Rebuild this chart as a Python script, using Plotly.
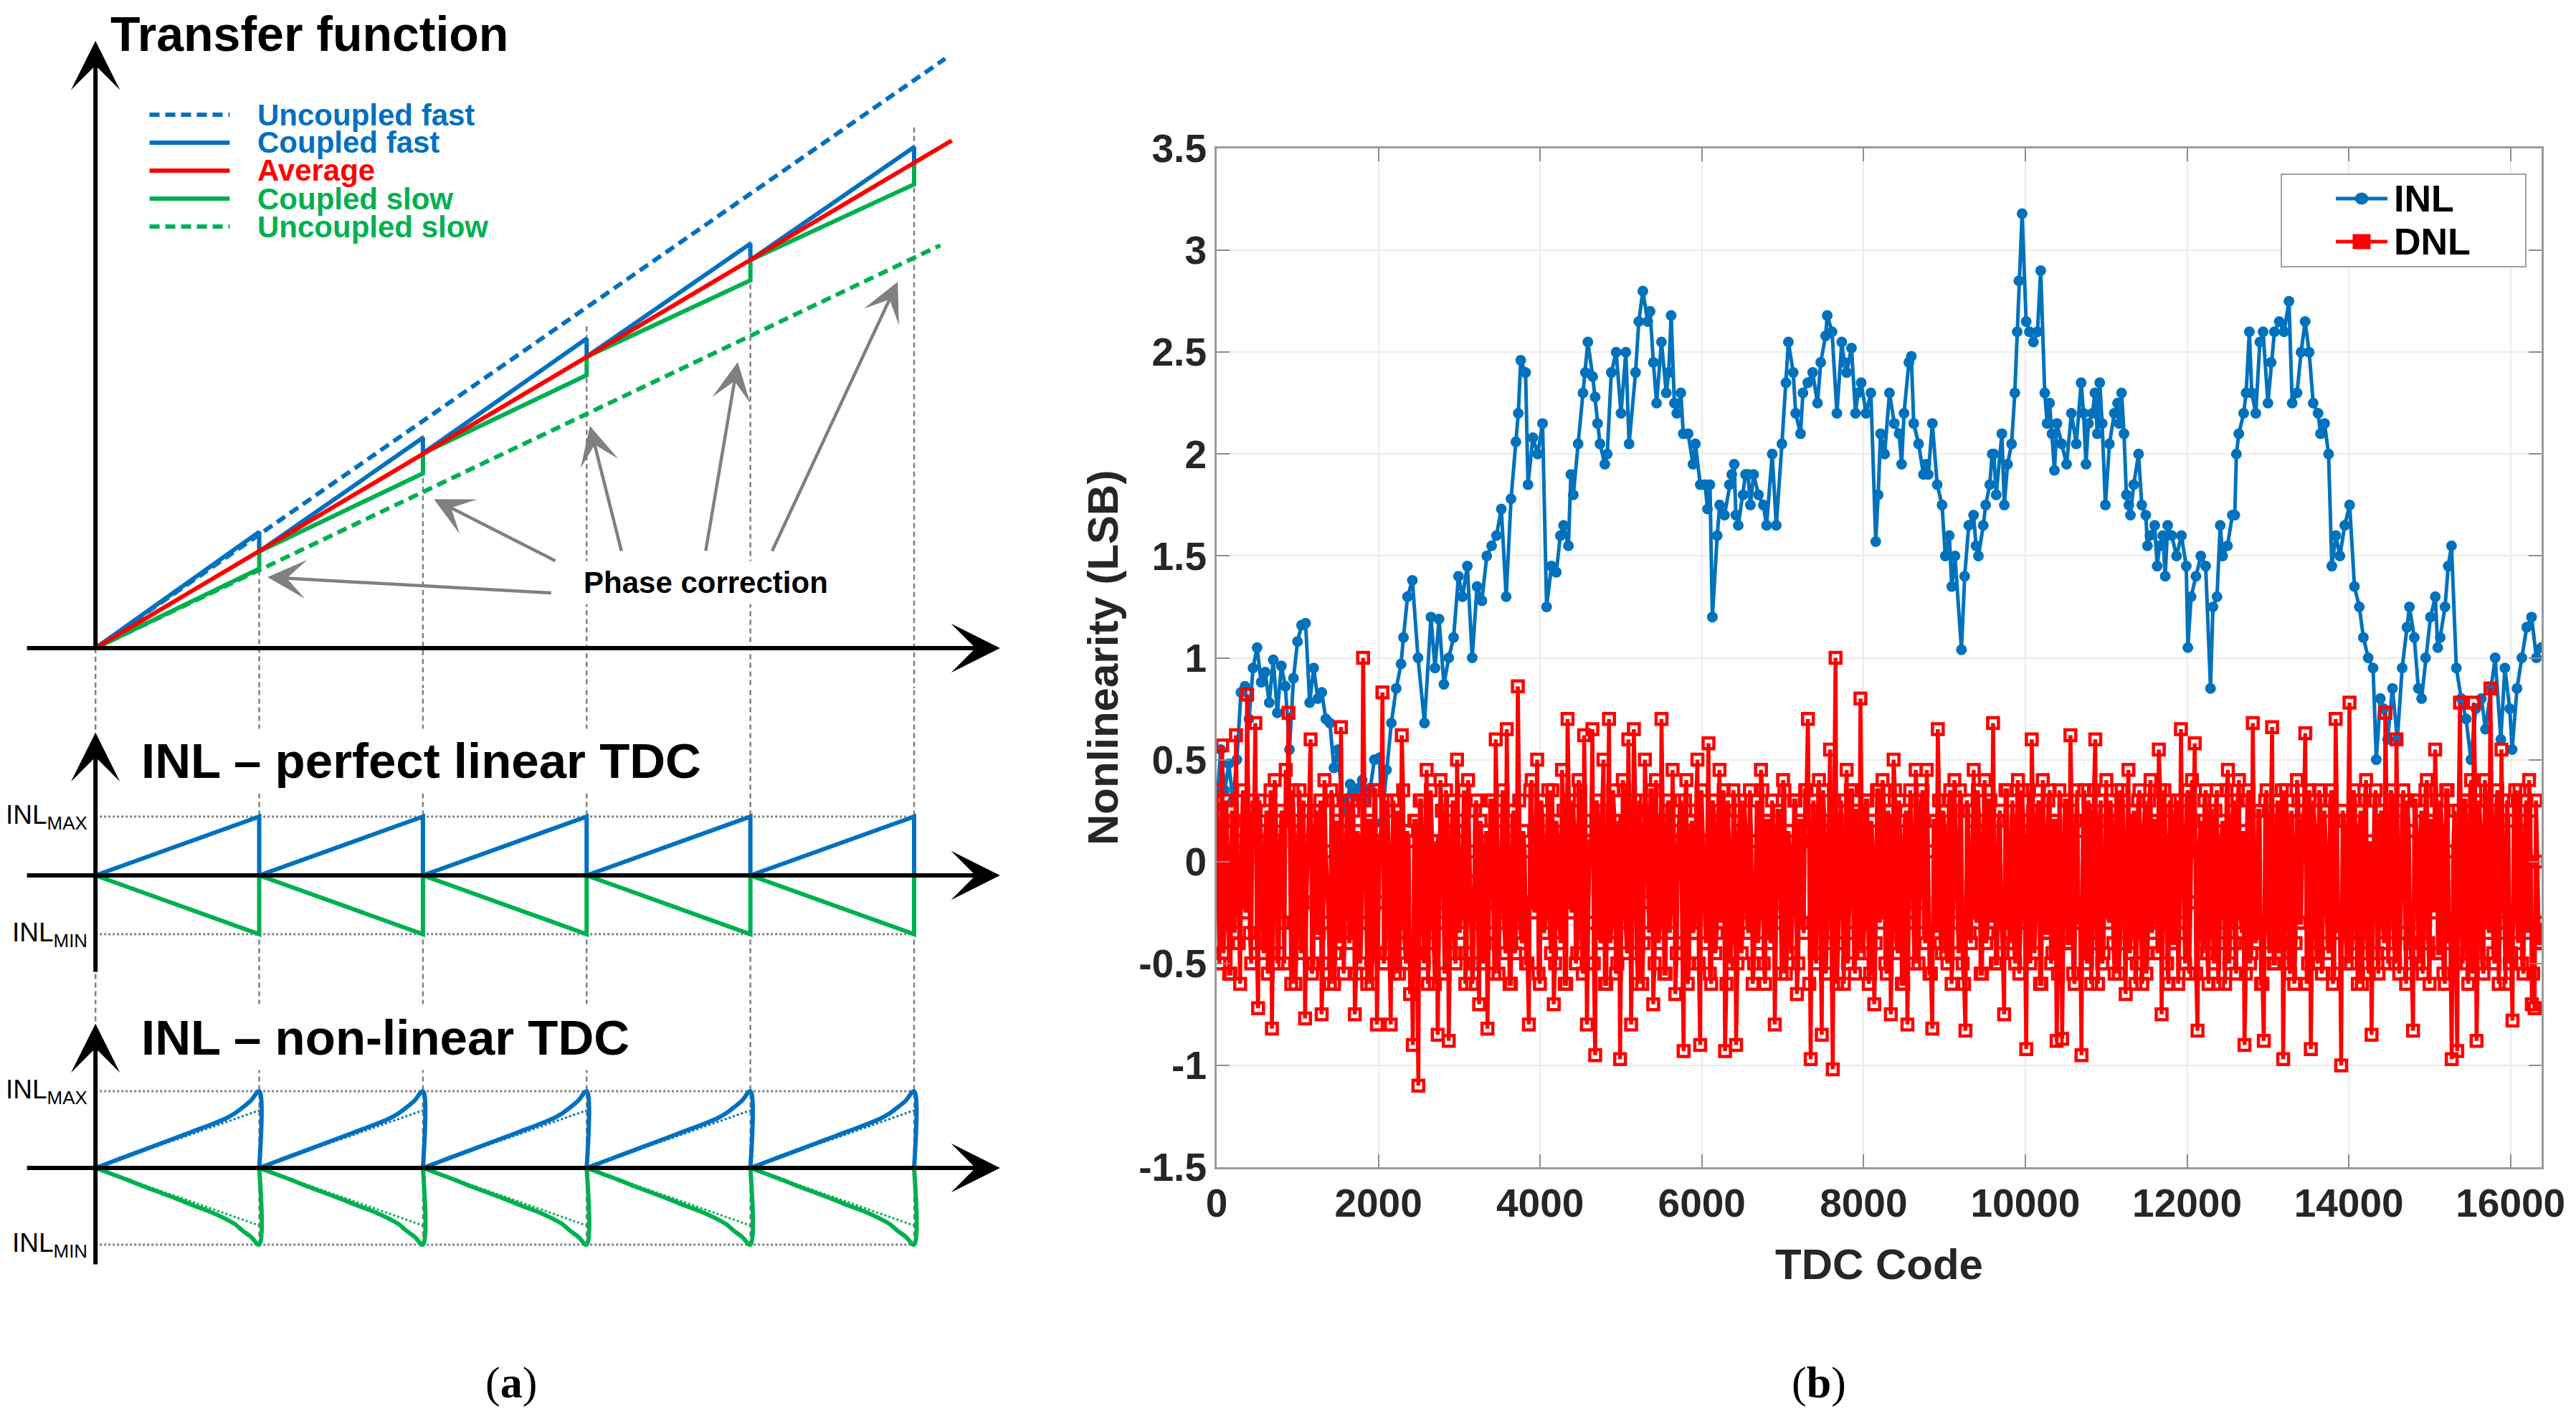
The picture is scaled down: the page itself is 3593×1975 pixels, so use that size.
import numpy as np
import plotly.graph_objects as go

W, H = 3593, 1975
OFF = 8  # page offset of the figure inside the browser window
FONT = "Liberation Sans, Arial, sans-serif"
BLUE = "#0070C0"
GREEN = "#00B050"
RED = "#FF0000"
GRAY = "#808080"
MBLUE = "#0072BD"

# ---------------- (b) INL / DNL data ----------------
inl_code = [0, 50, 100, 150, 200, 250, 300, 350, 400, 450, 500, 550, 600, 650, 700, 750, 800, 850, 900, 950,
            1000, 1050, 1100, 1150, 1200, 1250, 1300, 1350, 1400, 1450, 1500, 1550, 1600, 1650, 1700, 1750, 1800,
            1850, 1900, 1950, 2015, 2040, 2100, 2160, 2220, 2280, 2310, 2360, 2420, 2490, 2570, 2650, 2700, 2750,
            2810, 2870, 2930, 2990, 3040, 3100, 3160, 3220, 3280, 3340, 3400, 3460, 3520, 3580, 3640, 3700, 3730,
            3760, 3820, 3850, 3910, 3970, 4030, 4080, 4140, 4200, 4250, 4290, 4350, 4380, 4410, 4470, 4530, 4560,
            4590, 4650, 4680, 4710, 4740, 4800, 4830, 4880, 4940, 5000, 5060, 5100, 5180, 5220, 5270, 5330, 5360,
            5400, 5440, 5500, 5560, 5590, 5620, 5660, 5690, 5740, 5770, 5830, 5890, 5920, 5980, 6040, 6070, 6100,
            6130, 6190, 6220, 6280, 6340, 6370, 6400, 6420, 6450, 6510, 6540, 6570, 6600, 6640, 6700, 6760, 6800,
            6870, 6920, 6990, 7040, 7070, 7130, 7160, 7220, 7250, 7310, 7370, 7430, 7470, 7530, 7550, 7610, 7670,
            7730, 7760, 7790, 7850, 7900, 7930, 7970, 8030, 8090, 8150, 8180, 8210, 8260, 8320, 8380, 8440, 8470,
            8500, 8560, 8590, 8620, 8680, 8740, 8770, 8800, 8850, 8910, 8970, 9010, 9060, 9090, 9130, 9210, 9250,
            9300, 9360, 9390, 9420, 9480, 9510, 9560, 9590, 9610, 9640, 9710, 9740, 9780, 9830, 9870, 9900, 9920,
            9960, 10010, 10050, 10100, 10150, 10190, 10240, 10270, 10300, 10330, 10360, 10390, 10450, 10510, 10570,
            10630, 10690, 10720, 10750, 10780, 10830, 10860, 10890, 10920, 10950, 10990, 11040, 11100, 11140,
            11160, 11190, 11220, 11250, 11280, 11300, 11340, 11400, 11440, 11490, 11510, 11540, 11600, 11630,
            11660, 11700, 11730, 11760, 11810, 11870, 11930, 11990, 12010, 12050, 12110, 12170, 12230, 12290,
            12320, 12370, 12410, 12440, 12500, 12560, 12590, 12610, 12640, 12700, 12730, 12770, 12800, 12850,
            12900, 12940, 13000, 13040, 13080, 13140, 13200, 13260, 13300, 13360, 13410, 13460, 13510, 13560,
            13620, 13650, 13700, 13750, 13790, 13840, 13890, 13950, 14010, 14070, 14130, 14180, 14240, 14300,
            14340, 14390, 14430, 14480, 14540, 14600, 14660, 14720, 14750, 14810, 14860, 14900, 14950, 15010,
            15070, 15100, 15130, 15190, 15230, 15270, 15330, 15390, 15450, 15510, 15570, 15640, 15690, 15760,
            15810, 15880, 15930, 15990, 16020, 16080, 16140, 16200, 16260, 16320, 16380]
inl_val = [0.27, 0.55, 0.35, 0.48, 0.30, 0.50, 0.83, 0.86, 0.70, 0.95, 1.05, 0.88, 0.93, 0.78, 0.99, 0.73, 0.96,
           0.86, 0.55, 0.90, 1.08, 1.16, 1.17, 0.78, 0.95, 0.80, 0.83, 0.70, 0.68, 0.46, 0.55, 0.30, 0.25, 0.38,
           0.32, 0.36, 0.40, 0.30, 0.36, 0.50, 0.51, 0.19, 0.45, 0.68, 0.85, 0.97, 1.10, 1.30, 1.38, 1.00, 0.68,
           1.20, 0.95, 1.19, 0.87, 1.00, 1.10, 1.40, 1.30, 1.45, 1.00, 1.35, 1.28, 1.50, 1.55, 1.60, 1.73, 1.30,
           1.78, 2.06, 2.20, 2.46, 2.40, 1.85, 2.08, 2.00, 2.15, 1.25, 1.45, 1.42, 1.60, 1.65, 1.55, 1.90, 1.80,
           2.05, 2.30, 2.40, 2.55, 2.38, 2.28, 2.15, 2.05, 1.95, 2.00, 2.40, 2.50, 2.20, 2.50, 2.05, 2.40, 2.65,
           2.80, 2.65, 2.70, 2.45, 2.25, 2.55, 2.30, 2.40, 2.68, 2.25, 2.20, 2.30, 2.10, 2.10, 1.95, 2.05, 1.85,
           1.85, 1.73, 1.85, 1.20, 1.60, 1.75, 1.70, 1.85, 1.90, 1.95, 1.70, 1.65, 1.80, 1.90, 1.90, 1.75, 1.90,
           1.80, 1.75, 1.65, 2.00, 1.65, 2.05, 2.35, 2.55, 2.40, 2.20, 2.10, 2.30, 2.35, 2.40, 2.25, 2.45, 2.58,
           2.68, 2.60, 2.20, 2.55, 2.45, 2.40, 2.52, 2.20, 2.30, 2.35, 2.20, 2.30, 1.57, 1.80, 2.10, 2.00, 2.30,
           2.15, 2.10, 1.95, 2.20, 2.45, 2.48, 2.15, 2.05, 1.90, 1.95, 1.90, 2.15, 1.85, 1.75, 1.50, 1.60, 1.35,
           1.50, 1.04, 1.40, 1.65, 1.70, 1.55, 1.50, 1.65, 1.75, 1.85, 2.00, 2.00, 1.80, 2.10, 1.75, 1.95, 2.05,
           2.30, 2.60, 2.85, 3.18, 2.65, 2.60, 2.55, 2.60, 2.90, 2.30, 2.15, 2.25, 2.10, 1.92, 2.15, 2.05, 1.95,
           2.20, 2.05, 2.35, 2.20, 1.95, 2.15, 2.20, 2.30, 2.10, 2.35, 2.15, 1.75, 2.05, 2.20, 2.25, 2.15, 2.30,
           2.10, 1.80, 1.75, 1.70, 1.85, 2.00, 1.75, 1.70, 1.55, 1.60, 1.65, 1.45, 1.55, 1.60, 1.40, 1.65, 1.60,
           1.50, 1.60, 1.45, 1.05, 1.30, 1.40, 1.50, 1.45, 0.85, 1.25, 1.30, 1.65, 1.50, 1.55, 1.70, 1.70, 2.00,
           2.10, 2.20, 2.30, 2.60, 2.30, 2.20, 2.55, 2.60, 2.25, 2.45, 2.60, 2.65, 2.60, 2.75, 2.25, 2.30, 2.50,
           2.65, 2.50, 2.25, 2.20, 2.10, 2.15, 2.00, 1.45, 1.60, 1.50, 1.65, 1.75, 1.35, 1.25, 1.10, 1.00, 0.95,
           0.50, 0.80, 0.75, 0.60, 0.85, 0.60, 0.95, 1.15, 1.25, 1.10, 0.85, 0.80, 1.00, 1.20, 1.30, 1.05, 1.10,
           1.25, 1.45, 1.55, 0.95, 0.80, 0.70, 0.50, 0.75, 0.80, 0.65, 0.85, 1.00, 0.60, 0.95, 0.75, 0.55, 0.85,
           1.00, 1.15, 1.20, 1.00, 1.05]

# DNL read in two passes: the spiky outer envelope and the dense core in between
dnl_outer = [
    0.35, -0.5, 0.57, -0.3, 0.05, -0.55, 0.2, 0.62, -0.4, 0.1, -0.2, 0.82, -0.35, 0.3, 0.68, -0.72, 0.15, -0.45, 0.25, -0.1, -0.82, 0.4, -0.5, 0.1,
    -0.3, 0.45, 0.73, -0.6, 0.2, -0.4, 0.35, -0.2, -0.77, 0.1, 0.6, -0.5, 0.25, -0.35, -0.75, 0.4, -0.1, -0.6, 0.3, -0.45, 0.05, 0.66, -0.55, 0.2,
    -0.4, 0.3, -0.75, 0.15, -0.5, 1.0, -0.3, 0.2, -0.6, 0.35, -0.8, 0.1, 0.83, -0.45, 0.25, -0.8, 0.3, -0.2, -0.55, 0.62, -0.4, 0.15, -0.65, -0.9,
    0.2, -1.1, 0.3, -0.5, 0.45, -0.3, 0.1, -0.6, -0.85, 0.4, -0.2, 0.35, -0.88, 0.15, -0.45, 0.5, -0.35, 0.2, -0.6, 0.4, -0.1, -0.5, 0.3, -0.7,
    0.1, -0.4, -0.82, 0.3, -0.2, 0.6, -0.55, 0.25, -0.3, 0.65, -0.6, 0.2, -0.45, 0.86, -0.35, 0.15, -0.5, -0.8, 0.4, -0.25, 0.5, -0.6, 0.2, -0.3,
    0.35, -0.45, -0.7, 0.2, -0.3, 0.45, -0.6, 0.7, -0.2, 0.3, -0.5, 0.4, -0.35, 0.62, -0.8, 0.1, 0.65, -0.95, 0.25, -0.4, 0.5, -0.6, 0.7, -0.3,
    0.2, -0.5, -0.97, 0.4, -0.3, 0.6, -0.8, 0.65, -0.45, 0.3, -0.6, 0.5, -0.2, 0.35, -0.7, 0.4, -0.4, 0.7, -0.55, 0.25, -0.35, 0.45, -0.65, 0.1,
    0.3, -0.93, 0.4, -0.5, 0.2, -0.3, 0.5, -0.9, 0.1, -0.4, 0.58, -0.6, 0.25, -0.35, 0.45, -0.2, -0.93, 0.3, -0.5, 0.35, -0.9, 0.15, -0.45, 0.3,
    -0.3, 0.35, -0.6, 0.1, -0.4, 0.45, -0.5, 0.2, -0.35, 0.3, -0.8, 0.25, -0.2, 0.4, -0.55, 0.15, -0.45, 0.3, -0.65, 0.2, -0.3, 0.35, 0.7, -0.97,
    0.3, -0.5, 0.4, -0.85, 0.2, -0.3, 0.55, -1.02, 1.0, -0.4, 0.3, -0.6, 0.45, -0.2, 0.35, -0.55, 0.25, 0.8, -0.45, 0.3, -0.6, 0.2, -0.7, 0.35,
    -0.3, 0.4, -0.5, 0.25, -0.75, 0.5, -0.4, 0.3, -0.6, 0.2, -0.8, 0.35, -0.25, 0.45, -0.5, 0.3, -0.35, 0.45, -0.55, -0.82, 0.2, 0.65, -0.4, 0.25,
    -0.45, 0.3, -0.6, 0.4, -0.2, 0.35, -0.5, -0.83, 0.25, -0.4, 0.45, -0.3, 0.2, -0.55, 0.4, -0.35, 0.3, 0.68, -0.5, 0.2, -0.3, -0.75, 0.35, -0.4,
    0.3, -0.5, 0.4, -0.3, 0.2, -0.92, 0.35, 0.6, -0.45, 0.25, -0.6, 0.4, -0.35, 0.3, -0.5, 0.2, -0.88, 0.35, -0.87, 0.3, -0.4, 0.62, -0.55, 0.2,
    -0.3, -0.95, 0.35, -0.5, 0.25, -0.4, 0.6, -0.6, 0.3, -0.45, 0.4, -0.3, 0.2, -0.55, 0.35, -0.4, 0.3, -0.65, 0.45, -0.35, 0.25, -0.5, 0.35, -0.6,
    0.3, -0.45, 0.4, -0.3, 0.2, 0.55, -0.75, 0.35, -0.5, 0.3, -0.4, 0.25, -0.6, 0.65, -0.35, 0.3, -0.55, 0.4, 0.58, -0.83, 0.2, -0.45, 0.35, -0.6,
    0.25, -0.5, 0.35, -0.4, 0.2, -0.6, 0.45, -0.3, 0.3, -0.55, 0.4, -0.35, -0.9, 0.3, -0.5, 0.68, -0.4, 0.25, -0.6, -0.88, 0.35, -0.45, 0.66, -0.5,
    0.3, -0.4, -0.97, 0.35, -0.5, 0.25, -0.6, 0.4, -0.3, 0.2, 0.63, -0.5, -0.92, 0.3, -0.45, 0.35, -0.55, 0.25, -0.4, 0.3, -0.6, 0.7, -0.35, -1.0,
    0.2, -0.5, 0.78, -0.4, 0.3, -0.6, 0.25, -0.35, 0.4, -0.55, -0.85, 0.3, -0.45, 0.2, -0.3, 0.73, -0.5, 0.35, -0.4, 0.6, -0.55, 0.25, -0.35, 0.3,
    -0.4, -0.83, 0.3, -0.5, 0.25, -0.35, 0.4, -0.6, 0.2, 0.55, -0.45, 0.3, -0.55, 0.35, -0.4, -0.97, 0.25, -0.93, 0.78, -0.5, 0.3, -0.6, 0.4, 0.78,
    -0.88, 0.3, -0.5, 0.4, -0.3, 0.85, -0.45, 0.25, -0.6, 0.55, -0.35, 0.3, -0.5, -0.78, 0.35, -0.4, 0.2, -0.55, 0.3, 0.4, -0.7, -0.72, 0.0, -0.4,
]
dnl_core = [
    -0.2, 0.1, -0.45, 0.3, -0.55, 0.25, -0.35, 0.05, -0.6, 0.35, -0.25, 0.15, -0.5, 0.2, -0.4, 0.3, -0.3, 0.1, -0.55, 0.35, -0.15, 0.2, -0.45, 0.25,
    -0.5, 0.2, -0.3, 0.35, -0.6, 0.1, -0.45, 0.3, -0.2, 0.25, -0.55, 0.15, -0.35, 0.3, -0.5, 0.05, -0.3, 0.35, -0.6, 0.2, -0.4, 0.1, -0.25, 0.3,
    -0.35, 0.25, -0.55, 0.1, -0.3, 0.3, -0.6, 0.2, -0.45, 0.35, -0.2, 0.15, -0.5, 0.3, -0.35, 0.05, -0.55, 0.25, -0.3, 0.35, -0.5, 0.1, -0.4, 0.2,
    -0.45, 0.3, -0.25, 0.15, -0.6, 0.35, -0.4, 0.1, -0.3, 0.25, -0.55, 0.2, -0.35, 0.3, -0.5, 0.15, -0.25, 0.35, -0.45, 0.05, -0.6, 0.25, -0.3, 0.2,
    -0.5, 0.15, -0.35, 0.3, -0.55, 0.2, -0.25, 0.35, -0.45, 0.1, -0.6, 0.25, -0.3, 0.3, -0.4, 0.05, -0.5, 0.35, -0.2, 0.15, -0.55, 0.3, -0.35, 0.1,
    -0.3, 0.35, -0.5, 0.1, -0.4, 0.25, -0.6, 0.3, -0.25, 0.15, -0.45, 0.35, -0.55, 0.2, -0.3, 0.1, -0.5, 0.3, -0.35, 0.25, -0.6, 0.05, -0.4, 0.35,
    -0.55, 0.2, -0.3, 0.35, -0.45, 0.1, -0.25, 0.3, -0.6, 0.15, -0.4, 0.25, -0.35, 0.35, -0.5, 0.05, -0.3, 0.2, -0.55, 0.3, -0.2, 0.15, -0.45, 0.25,
    -0.4, 0.3, -0.6, 0.15, -0.35, 0.25, -0.5, 0.35, -0.2, 0.1, -0.55, 0.3, -0.45, 0.2, -0.3, 0.35, -0.6, 0.05, -0.35, 0.25, -0.5, 0.3, -0.25, 0.15,
    -0.35, 0.1, -0.5, 0.3, -0.25, 0.35, -0.6, 0.2, -0.4, 0.15, -0.3, 0.25, -0.55, 0.35, -0.45, 0.05, -0.2, 0.3, -0.5, 0.2, -0.35, 0.35, -0.6, 0.1,
    -0.45, 0.25, -0.3, 0.35, -0.55, 0.15, -0.4, 0.3, -0.6, 0.2, -0.25, 0.1, -0.5, 0.35, -0.35, 0.25, -0.45, 0.15, -0.3, 0.3, -0.55, 0.05, -0.4, 0.35,
    -0.25, 0.3, -0.55, 0.2, -0.35, 0.35, -0.45, 0.1, -0.6, 0.25, -0.3, 0.15, -0.5, 0.3, -0.2, 0.35, -0.4, 0.05, -0.55, 0.2, -0.35, 0.3, -0.45, 0.15,
    -0.5, 0.35, -0.3, 0.1, -0.45, 0.25, -0.6, 0.3, -0.35, 0.2, -0.25, 0.35, -0.55, 0.15, -0.4, 0.3, -0.3, 0.05, -0.5, 0.25, -0.45, 0.35, -0.2, 0.1,
    -0.4, 0.2, -0.55, 0.35, -0.3, 0.1, -0.5, 0.25, -0.25, 0.3, -0.6, 0.15, -0.35, 0.35, -0.45, 0.2, -0.55, 0.1, -0.3, 0.3, -0.4, 0.25, -0.6, 0.35,
    -0.3, 0.15, -0.45, 0.3, -0.6, 0.35, -0.35, 0.2, -0.5, 0.05, -0.25, 0.3, -0.4, 0.25, -0.55, 0.35, -0.3, 0.1, -0.45, 0.2, -0.6, 0.3, -0.35, 0.15,
    -0.55, 0.3, -0.35, 0.2, -0.45, 0.35, -0.25, 0.1, -0.6, 0.25, -0.4, 0.3, -0.3, 0.15, -0.5, 0.35, -0.2, 0.2, -0.55, 0.05, -0.35, 0.3, -0.45, 0.25,
    -0.35, 0.25, -0.6, 0.1, -0.3, 0.35, -0.5, 0.2, -0.4, 0.3, -0.25, 0.15, -0.55, 0.35, -0.45, 0.05, -0.35, 0.25, -0.6, 0.3, -0.3, 0.2, -0.5, 0.1,
    -0.45, 0.35, -0.25, 0.2, -0.55, 0.1, -0.4, 0.3, -0.3, 0.25, -0.6, 0.35, -0.35, 0.15, -0.5, 0.3, -0.2, 0.05, -0.45, 0.35, -0.55, 0.2, -0.3, 0.25,
    -0.3, 0.2, -0.5, 0.35, -0.35, 0.15, -0.6, 0.3, -0.45, 0.1, -0.25, 0.35, -0.55, 0.25, -0.4, 0.2, -0.3, 0.3, -0.5, 0.05, -0.35, 0.35, -0.6, 0.15,
    -0.5, 0.3, -0.3, 0.1, -0.55, 0.35, -0.4, 0.2, -0.25, 0.3, -0.45, 0.15, -0.6, 0.35, -0.35, 0.05, -0.5, 0.25, -0.3, 0.3, -0.45, 0.2, -0.55, 0.35,
    -0.4, 0.15, -0.55, 0.3, -0.35, 0.25, -0.5, 0.35, -0.3, 0.1, -0.6, 0.2, -0.45, 0.3, -0.25, 0.35, -0.5, 0.15, -0.35, 0.25, -0.55, 0.3, -0.4, -0.3,
]
# alternate the two readings; samples evenly spaced over the code range
dnl_val = [v for pair in zip(dnl_outer, dnl_core) for v in pair]
dnl_code = np.linspace(0, 16383, len(dnl_val))

x_tick_vals = [0, 2000, 4000, 6000, 8000, 10000, 12000, 14000, 16000]
x_tick_text = ["0", "2000", "4000", "6000", "8000", "10000", "12000", "14000", "16000"]
y_tick_vals = [-1.5, -1, -0.5, 0, 0.5, 1, 1.5, 2, 2.5, 3, 3.5]
y_tick_text = ["-1.5", "-1", "-0.5", "0", "0.5", "1", "1.5", "2", "2.5", "3", "3.5"]

# ---------------- (a) schematic data ----------------
periods = [0, 1, 2, 3, 4]
tf_unc_fast_x, tf_unc_fast_y = [0, 5.19], [0, 3.60]
tf_unc_slow_x, tf_unc_slow_y = [0, 5.16], [0, 2.46]
tf_avg_x, tf_avg_y = [0, 5.23], [0, 3.10]
tf_step_x = [0, 1, 1, 2, 2, 3, 3, 4, 4, 5, 5]
tf_fast_y = [0, 0.71, 0.59, 1.285, 1.19, 1.89, 1.78, 2.47, 2.37, 3.06, 2.97]
tf_slow_y = [0, 0.485, 0.59, 1.067, 1.19, 1.667, 1.78, 2.246, 2.37, 2.832, 2.97]
tf_guide_x = [1, 2, 3, 4, 5]
tf_guide_top = [0.685, 1.30, 1.965, 2.485, 3.18]

legend_names = ["Uncoupled fast", "Coupled fast", "Average", "Coupled slow", "Uncoupled slow"]
legend_colors = [BLUE, BLUE, RED, GREEN, GREEN]
legend_dashed = [True, False, False, False, True]
legend_y = [3.257, 3.087, 2.916, 2.745, 2.574]

# phase correction arrows: tail -> head
pc_tail_x = [2.79, 2.815, 3.214, 3.726, 4.13]
pc_tail_y = [0.337, 0.53, 0.587, 0.587, 0.587]
pc_head_x = [1.05, 2.067, 3.02, 3.923, 4.90]
pc_head_y = [0.433, 0.91, 1.357, 1.747, 2.237]

# one period of the INL saw-tooth
lin_x = [0, 1, 1]
lin_fast = [0, 1, 0]
lin_slow = [0, -1, 0]
nl_x = [0, 0.1, 0.2, 0.3, 0.4, 0.5, 0.6, 0.7, 0.8, 0.85, 0.9, 0.95, 1.0, 1.0]
nl_fast = [0, 0.08, 0.16, 0.24, 0.32, 0.40, 0.48, 0.56, 0.65, 0.71, 0.79, 0.88, 1.0, 0.0]
nl_slow = [0, -0.08, -0.16, -0.245, -0.325, -0.405, -0.49, -0.57, -0.67, -0.73, -0.82, -0.90, -1.0, 0.0]
nl_ref_x = [0, 1]
nl_ref_fast = [0, 0.75]
nl_ref_slow = [0, -0.75]


def tile(xs, ys):
    ox, oy = [], []
    for p in periods:
        ox += [p + v for v in xs] + [None]
        oy += list(ys) + [None]
    return ox, oy


def fx(px):
    return (px - OFF) / W


def fy(py):
    return 1 - (py - OFF) / H


def px_dom(top, bottom):
    return [fy(bottom), fy(top)]


fig = go.Figure()

# ---- panel (b) ----
fig.add_trace(go.Scatter(x=inl_code, y=inl_val, name="INL", mode="lines+markers", showlegend=False,
                         line=dict(color=MBLUE, width=5),
                         marker=dict(symbol="circle", size=15, color=MBLUE)))
fig.add_trace(go.Scatter(x=dnl_code, y=dnl_val, name="DNL", mode="lines+markers", showlegend=False,
                         line=dict(color=RED, width=5.5),
                         marker=dict(symbol="square-open", size=15, color=RED, line=dict(width=4.5))))


def left(x, y, ax, color, width, dash="solid", shape="linear"):
    fig.add_trace(go.Scatter(x=x, y=y, xaxis="x" + ax, yaxis="y" + ax, mode="lines",
                             line=dict(color=color, width=width, dash=dash, shape=shape),
                             showlegend=False, hoverinfo="skip"))


GUIDE_DASH = "7px,5px"
# ---- transfer function ----
for gx, gt in zip(tf_guide_x, tf_guide_top):
    left([gx, gx], [gt, -0.3], "2", GRAY, 2.5, GUIDE_DASH)
left([0, 0], [0, -0.3], "2", GRAY, 2.5, GUIDE_DASH)
left(tf_unc_fast_x, tf_unc_fast_y, "2", BLUE, 6, "14px,8px")
left(tf_unc_slow_x, tf_unc_slow_y, "2", GREEN, 6, "14px,8px")
left(tf_step_x, tf_slow_y, "2", GREEN, 6)
left(tf_step_x, tf_fast_y, "2", BLUE, 6)
left(tf_avg_x, tf_avg_y, "2", RED, 6)
for ly, lc, ld in zip(legend_y, legend_colors, legend_dashed):
    left([0.33, 0.82], [ly, ly], "2", lc, 6, "14px,8px" if ld else "solid")

# ---- INL perfect / non-linear ----
for ax, top, bot in (("3", 3.3, -2.3), ("4", 2.2, -1.0)):
    for gx in [0, 1, 2, 3, 4, 5]:
        left([gx, gx], [top, bot], ax, GRAY, 2.5, GUIDE_DASH)
    left([0, 5], [1, 1], ax, GRAY, 3, "dot")
    left([0, 5], [-1, -1], ax, GRAY, 3, "dot")

left(*tile(lin_x, lin_slow), "3", GREEN, 6)
left(*tile(lin_x, lin_fast), "3", BLUE, 6)
left(*tile(nl_ref_x, nl_ref_slow), "4", GREEN, 3, "dot")
left(*tile(nl_ref_x, nl_ref_fast), "4", BLUE, 3, "dot")
left(*tile(nl_x, nl_slow), "4", GREEN, 6, shape="spline")
left(*tile(nl_x, nl_fast), "4", BLUE, 6, shape="spline")

ann = []


def arrow(ax, x0, y0, x1, y1, color, width, size):
    ann.append(dict(xref="x" + ax, yref="y" + ax, axref="x" + ax, ayref="y" + ax,
                    x=x1, y=y1, ax=x0, ay=y0, text="", showarrow=True, arrowhead=3,
                    arrowsize=size, arrowwidth=width, arrowcolor=color, standoff=0, startstandoff=0))


def text(ax, x, y, s, size, color="black", bold=True, xanchor="left", bg=None):
    d = dict(xref="x" + ax, yref="y" + ax, x=x, y=y, text=s, showarrow=False, xanchor=xanchor,
             yanchor="middle", font=dict(family=FONT, size=size, color=color,
                                         weight="bold" if bold else "normal"))
    if bg:
        d.update(bgcolor=bg, borderpad=6)
    ann.append(d)


def paper_text(px, py, s, font, angle=0, xanchor="center"):
    ann.append(dict(xref="paper", yref="paper", x=fx(px), y=fy(py), text=s, showarrow=False,
                    xanchor=xanchor, yanchor="middle", textangle=angle, font=font))


# axes with arrow heads
arrow("2", -0.425, 0, 5.525, 0, "black", 6, 1.9)
arrow("2", 0, 0, 0, 3.708, "black", 6, 1.9)
arrow("3", -0.425, 0, 5.525, 0, "black", 6, 1.9)
arrow("3", 0, -1.66, 0, 2.43, "black", 6, 1.9)
arrow("4", -0.425, 0, 5.525, 0, "black", 6, 1.9)
arrow("4", 0, -1.27, 0, 1.88, "black", 6, 1.9)

for tx, ty, hx, hy in zip(pc_tail_x, pc_tail_y, pc_head_x, pc_head_y):
    arrow("2", tx, ty, hx, hy, GRAY, 4.5, 2.0)

text("2", 0.083, 3.75, "Transfer function", 68)
for name, ly, lc in zip(legend_names, legend_y, legend_colors):
    text("2", 0.98, ly, name, 42, lc)
text("2", 3.73, 0.40, "Phase correction", 42, xanchor="center", bg="white")
text("3", 0.25, 1.95, "INL – perfect linear TDC", 69, bg="white")
text("4", 0.25, 1.70, "INL – non-linear TDC", 69, bg="white")
for ax in ("3", "4"):
    text(ax, -0.04, 1, "INL<sub>MAX</sub>", 37, bold=False, xanchor="right")
    text(ax, -0.04, -1, "INL<sub>MIN</sub>", 37, bold=False, xanchor="right")

# axis titles and panel captions
title_font = dict(family=FONT, size=60, weight="bold", color="#262626")
paper_text(2621, 1763, "TDC Code", title_font)
paper_text(1538, 918, "Nonlinearity (LSB)", title_font, angle=-90)
cap_font = dict(family="Liberation Serif, serif", size=62, color="black")
paper_text(713, 1928, "(<b>a</b>)", cap_font)
paper_text(2537, 1928, "(<b>b</b>)", cap_font)

# legend box for (b)
leg_rows = [("INL", MBLUE, "circle", 277), ("DNL", RED, "square", 337)]
shapes = [dict(type="rect", xref="paper", yref="paper", x0=fx(3182), x1=fx(3523), y0=fy(372), y1=fy(243),
               line=dict(color="#a0a0a0", width=2), fillcolor="white", layer="above")]
for name, col, sym, yy in leg_rows:
    shapes.append(dict(type="line", xref="paper", yref="paper", x0=fx(3258), x1=fx(3330),
                       y0=fy(yy), y1=fy(yy), line=dict(color=col, width=5), layer="above"))
    if sym == "circle":
        shapes.append(dict(type="circle", xref="paper", yref="paper", x0=fx(3285), x1=fx(3303),
                           y0=fy(yy + 8), y1=fy(yy - 8), line=dict(color=col, width=1),
                           fillcolor=col, layer="above"))
    else:
        shapes.append(dict(type="rect", xref="paper", yref="paper", x0=fx(3284), x1=fx(3304),
                           y0=fy(yy + 8), y1=fy(yy - 8), line=dict(color=col, width=5),
                           fillcolor=col, layer="above"))
    paper_text(3337, yy, name, dict(family=FONT, size=52, weight="bold", color="black"), xanchor="left")

left_x = dict(domain=[fx(19), fx(1412)], range=[-0.5, 5.6], visible=False, fixedrange=True)
tick_font = dict(family=FONT, size=55, weight="bold", color="#262626")
axis_common = dict(ticks="inside", ticklen=18, tickwidth=2, tickcolor="#8c8c8c", showline=True, linewidth=3,
                   linecolor="#9a9a9a", mirror="ticks", showgrid=True, gridcolor="#ebebeb", gridwidth=2,
                   zeroline=False, tickfont=tick_font)
fig.update_layout(
    width=W, height=H, margin=dict(l=0, r=0, t=0, b=0, autoexpand=False),
    paper_bgcolor="white", plot_bgcolor="white",
    annotations=ann, shapes=shapes, showlegend=False,
    xaxis=dict(axis_common, domain=[fx(1697), fx(3545)], range=[0, 16384], tickvals=x_tick_vals,
               ticktext=x_tick_text),
    yaxis=dict(axis_common, domain=px_dom(207, 1628), range=[-1.5, 3.5], tickvals=y_tick_vals,
               ticktext=y_tick_text),
    xaxis2=dict(left_x, anchor="y2"),
    yaxis2=dict(domain=px_dom(30, 960), range=[-0.2452, 3.8266], visible=False, anchor="x2"),
    xaxis3=dict(left_x, anchor="y3"),
    yaxis3=dict(domain=px_dom(960, 1400), range=[-2.183, 3.183], visible=False, anchor="x3"),
    xaxis4=dict(left_x, anchor="y4"),
    yaxis4=dict(domain=px_dom(1400, 1800), range=[-1.598, 2.140], visible=False, anchor="x4"),
)

fig.write_html("out.html")
